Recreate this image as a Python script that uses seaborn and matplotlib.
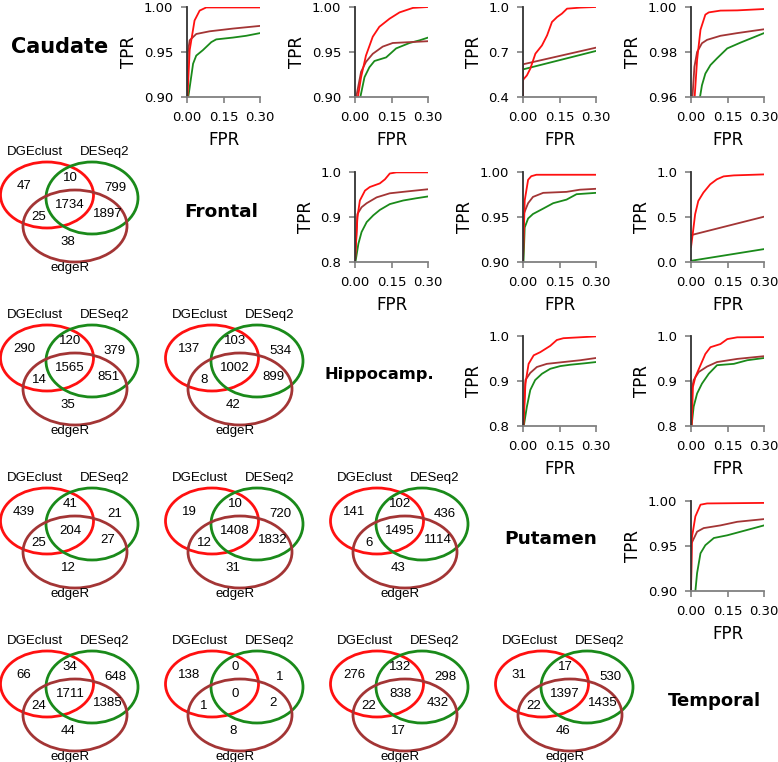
import numpy as np
import pandas as pd
import seaborn as sns
import matplotlib.pyplot as plt
from matplotlib.patches import Ellipse

regions = ['Caudate', 'Frontal', 'Hippocamp.', 'Putamen', 'Temporal']
methods = ['DGEclust', 'DESeq2', 'edgeR']
colors = {'DGEclust': '#ff1010', 'DESeq2': '#1a8a1a', 'edgeR': '#a33535'}

# ROC curves (FPR, TPR)
roc_caud_front = {
    'DGEclust': ([0.002, 0.011, 0.031, 0.052, 0.079, 0.30], [0.90, 0.952, 0.985, 0.996, 0.9995, 0.9995]),
    'DESeq2': ([0.005, 0.008, 0.025, 0.038, 0.065, 0.10, 0.12, 0.188, 0.243, 0.30],
               [0.90, 0.905, 0.937, 0.946, 0.952, 0.961, 0.964, 0.966, 0.968, 0.971]),
    'edgeR': ([0.0, 0.004, 0.011, 0.038, 0.093, 0.188, 0.30], [0.90, 0.95, 0.963, 0.970, 0.973, 0.976, 0.979]),
}
roc_caud_hipp = {
    'DGEclust': ([0.012, 0.025, 0.045, 0.073, 0.10, 0.142, 0.183, 0.238, 0.30],
                 [0.90, 0.922, 0.946, 0.967, 0.978, 0.987, 0.994, 0.999, 1.0]),
    'DESeq2': ([0.022, 0.039, 0.059, 0.080, 0.128, 0.169, 0.224, 0.266, 0.30],
               [0.90, 0.922, 0.933, 0.940, 0.944, 0.954, 0.960, 0.963, 0.966]),
    'edgeR': ([0.005, 0.025, 0.045, 0.073, 0.114, 0.155, 0.30], [0.90, 0.928, 0.939, 0.948, 0.956, 0.960, 0.962]),
}
roc_caud_put = {
    'DGEclust': ([0.0, 0.0, 0.003, 0.016, 0.030, 0.051, 0.078, 0.099, 0.119, 0.140, 0.160, 0.181, 0.236, 0.30],
                 [0.40, 0.511, 0.52, 0.544, 0.589, 0.689, 0.744, 0.811, 0.90, 0.933, 0.956, 0.989, 0.996, 1.0]),
    'DESeq2': ([0.0, 0.30], [0.584, 0.707]),
    'edgeR': ([0.0, 0.0, 0.30], [0.40, 0.618, 0.729]),
}
roc_caud_temp = {
    'DGEclust': ([0.015, 0.025, 0.039, 0.059, 0.073, 0.121, 0.190, 0.30],
                 [0.96, 0.9764, 0.9899, 0.9966, 0.9976, 0.9984, 0.9985, 0.9991]),
    'DESeq2': ([0.037, 0.045, 0.059, 0.080, 0.107, 0.149, 0.204, 0.259, 0.30],
               [0.96, 0.9652, 0.9704, 0.9742, 0.9772, 0.9816, 0.9842, 0.9866, 0.9884]),
    'edgeR': ([0.006, 0.014, 0.025, 0.045, 0.066, 0.121, 0.190, 0.30],
              [0.96, 0.9734, 0.980, 0.9839, 0.9854, 0.9872, 0.9884, 0.9901]),
}
roc_front_hipp = {
    'DGEclust': ([0.0, 0.01, 0.020, 0.041, 0.061, 0.102, 0.123, 0.143, 0.170, 0.30],
                 [0.80, 0.899, 0.936, 0.958, 0.966, 0.974, 0.983, 0.996, 0.9985, 0.9985]),
    'DESeq2': ([0.002, 0.014, 0.027, 0.048, 0.075, 0.102, 0.143, 0.198, 0.252, 0.30],
               [0.80, 0.840, 0.866, 0.888, 0.903, 0.915, 0.928, 0.936, 0.941, 0.945]),
    'edgeR': ([0.0, 0.01, 0.027, 0.048, 0.089, 0.143, 0.211, 0.30],
              [0.80, 0.906, 0.921, 0.930, 0.943, 0.952, 0.956, 0.961]),
}
roc_front_put = {
    'DGEclust': ([0.0, 0.007, 0.021, 0.034, 0.055, 0.30], [0.90, 0.968, 0.991, 0.995, 0.9966, 0.9966]),
    'DESeq2': ([0.002, 0.007, 0.021, 0.041, 0.083, 0.124, 0.179, 0.22, 0.30],
               [0.90, 0.938, 0.948, 0.953, 0.959, 0.965, 0.969, 0.975, 0.9765]),
    'edgeR': ([0.0, 0.003, 0.021, 0.041, 0.083, 0.179, 0.234, 0.30],
              [0.90, 0.953, 0.965, 0.972, 0.9765, 0.9776, 0.980, 0.981]),
}
roc_front_temp = {
    'DGEclust': ([0.0, 0.007, 0.017, 0.030, 0.051, 0.079, 0.106, 0.134, 0.176, 0.30],
                 [0.16, 0.306, 0.528, 0.675, 0.768, 0.86, 0.915, 0.948, 0.959, 0.97]),
    'DESeq2': ([0.0, 0.30], [0.01, 0.14]),
    'edgeR': ([0.0, 0.30], [0.295, 0.50]),
}
roc_hipp_put = {
    'DGEclust': ([0.002, 0.01, 0.023, 0.044, 0.071, 0.112, 0.139, 0.166, 0.30],
                 [0.80, 0.895, 0.939, 0.958, 0.965, 0.979, 0.992, 0.996, 1.0]),
    'DESeq2': ([0.003, 0.016, 0.030, 0.050, 0.078, 0.112, 0.153, 0.194, 0.25, 0.30],
               [0.80, 0.844, 0.881, 0.903, 0.917, 0.928, 0.934, 0.937, 0.940, 0.943]),
    'edgeR': ([0.0, 0.01, 0.030, 0.057, 0.098, 0.166, 0.235, 0.30],
              [0.80, 0.903, 0.919, 0.932, 0.939, 0.943, 0.947, 0.952]),
}
roc_hipp_temp = {
    'DGEclust': ([0.003, 0.008, 0.018, 0.039, 0.059, 0.080, 0.121, 0.149, 0.190, 0.30],
                 [0.80, 0.888, 0.910, 0.936, 0.961, 0.976, 0.983, 0.994, 0.998, 0.9985]),
    'DESeq2': ([0.002, 0.011, 0.025, 0.045, 0.073, 0.107, 0.176, 0.231, 0.30],
               [0.80, 0.844, 0.873, 0.895, 0.917, 0.936, 0.939, 0.947, 0.952]),
    'edgeR': ([0.0, 0.0, 0.011, 0.032, 0.066, 0.107, 0.190, 0.30],
              [0.80, 0.873, 0.903, 0.921, 0.933, 0.943, 0.950, 0.956]),
}
roc_put_temp = {
    'DGEclust': ([0.0, 0.004, 0.018, 0.039, 0.066, 0.30], [0.90, 0.960, 0.983, 0.996, 0.9974, 0.998]),
    'DESeq2': ([0.018, 0.025, 0.039, 0.059, 0.094, 0.149, 0.204, 0.259, 0.30],
               [0.90, 0.920, 0.942, 0.951, 0.959, 0.962, 0.966, 0.970, 0.973]),
    'edgeR': ([0.0, 0.002, 0.025, 0.052, 0.121, 0.190, 0.30],
              [0.90, 0.953, 0.966, 0.970, 0.973, 0.977, 0.980]),
}

# y ticks of each ROC panel
yticks_caud_front = ['0.90', '0.95', '1.00']
yticks_caud_hipp = ['0.90', '0.95', '1.00']
yticks_caud_put = ['0.4', '0.7', '1.0']
yticks_caud_temp = ['0.96', '0.98', '1.00']
yticks_front_hipp = ['0.8', '0.9', '1.0']
yticks_front_put = ['0.90', '0.95', '1.00']
yticks_front_temp = ['0.0', '0.5', '1.0']
yticks_hipp_put = ['0.8', '0.9', '1.0']
yticks_hipp_temp = ['0.8', '0.9', '1.0']
yticks_put_temp = ['0.90', '0.95', '1.00']
xticks_fpr = ['0.00', '0.15', '0.30']

# Venn counts: DGEclust only, DGE&DESeq2, DESeq2 only, all three, DGE&edgeR, DESeq2&edgeR, edgeR only
venn_front_caud = [47, 10, 799, 1734, 25, 1897, 38]
venn_hipp_caud = [290, 120, 379, 1565, 14, 851, 35]
venn_hipp_front = [137, 103, 534, 1002, 8, 899, 42]
venn_put_caud = [439, 41, 21, 204, 25, 27, 12]
venn_put_front = [19, 10, 720, 1408, 12, 1832, 31]
venn_put_hipp = [141, 102, 436, 1495, 6, 1114, 43]
venn_temp_caud = [66, 34, 648, 1711, 24, 1385, 44]
venn_temp_front = [138, 0, 1, 0, 1, 2, 8]
venn_temp_hipp = [276, 132, 298, 838, 22, 432, 17]
venn_temp_put = [31, 17, 530, 1397, 22, 1435, 46]

roc_panels = {(0, 1): (roc_caud_front, yticks_caud_front), (0, 2): (roc_caud_hipp, yticks_caud_hipp),
              (0, 3): (roc_caud_put, yticks_caud_put), (0, 4): (roc_caud_temp, yticks_caud_temp),
              (1, 2): (roc_front_hipp, yticks_front_hipp), (1, 3): (roc_front_put, yticks_front_put),
              (1, 4): (roc_front_temp, yticks_front_temp), (2, 3): (roc_hipp_put, yticks_hipp_put),
              (2, 4): (roc_hipp_temp, yticks_hipp_temp), (3, 4): (roc_put_temp, yticks_put_temp)}
venn_panels = {(1, 0): venn_front_caud, (2, 0): venn_hipp_caud, (2, 1): venn_hipp_front,
               (3, 0): venn_put_caud, (3, 1): venn_put_front, (3, 2): venn_put_hipp,
               (4, 0): venn_temp_caud, (4, 1): venn_temp_front, (4, 2): venn_temp_hipp,
               (4, 3): venn_temp_put}

sns.set_style('ticks', {'text.color': 'black', 'axes.labelcolor': 'black'})
W, H = 778, 762
fig = plt.figure(figsize=(W / 100, H / 100), dpi=100)


def px_axes(left, top, width, height):
    return fig.add_axes([left / W, 1 - (top + height) / H, width / W, height / H])


# diagonal region names (sizes differ a little in the original)
label_x = [60, 221, 379, 551, 714]
label_y = [47, 212, 375, 539, 701]
label_size = [15, 13.3, 11.7, 13.3, 13]
for k, name in enumerate(regions):
    fig.text(label_x[k] / W, 1 - label_y[k] / H, name, ha='center', va='center', color='black',
             fontsize=label_size[k], fontweight='bold', family='DejaVu Sans')

# ROC panels
for (i, j), (roc, ylabels) in roc_panels.items():
    ax = px_axes(187 + (j - 1) * 168, 7 + i * 164.7, 73, 90)
    for m in ['DESeq2', 'edgeR', 'DGEclust']:
        fpr, tpr = roc[m]
        df = pd.DataFrame({'FPR': fpr, 'TPR': tpr})
        sns.lineplot(data=df, x='FPR', y='TPR', ax=ax, color=colors[m], linewidth=1.3,
                     sort=False, estimator=None, legend=False)
    yt = [float(v) for v in ylabels]
    ax.set_xlim(0, 0.30)
    ax.set_ylim(yt[0], yt[-1])
    ax.set_xticks([float(v) for v in xticks_fpr])
    ax.set_xticklabels(xticks_fpr, fontsize=9.5)
    ax.set_yticks(yt)
    ax.set_yticklabels(ylabels, fontsize=9.5)
    ax.set_xlabel('FPR', fontsize=12, labelpad=5)
    ax.set_ylabel('TPR', fontsize=12, labelpad=4)
    sns.despine(ax=ax)
    ax.spines['left'].set_color('#333333')
    ax.spines['bottom'].set_color('#808080')
    ax.spines['left'].set_linewidth(1.3)
    ax.spines['bottom'].set_linewidth(1.3)
    ax.tick_params(length=4, width=1.2, color='#808080', labelcolor='black', pad=6)

# Venn panels (local pixel coordinates)
ell = {'DGEclust': (47, 55, 93, 66), 'DESeq2': (92, 58, 92, 72), 'edgeR': (75, 86, 104, 72)}
num_pos = [(24, 46), (70, 38), (115, 48), (70, 65), (39, 77), (108, 74), (68, 102)]
for (i, j), counts in venn_panels.items():
    ax = px_axes(j * 165, 140 + (i - 1) * 163, 160, 135)
    ax.set_xlim(0, 160)
    ax.set_ylim(135, 0)
    ax.axis('off')
    for m in methods:
        cx, cy, w, h = ell[m]
        ax.add_patch(Ellipse((cx, cy), w, h, fill=False, edgecolor=colors[m], linewidth=2, clip_on=False))
    ax.text(35, 12, 'DGEclust', ha='center', va='center', fontsize=9.5, family='Liberation Sans')
    ax.text(105, 12, 'DESeq2', ha='center', va='center', fontsize=9.5, family='Liberation Sans')
    ax.text(70, 128, 'edgeR', ha='center', va='center', fontsize=9.5, family='Liberation Sans')
    for (x, y), c in zip(num_pos, counts):
        ax.text(x, y, str(c), ha='center', va='center', fontsize=9.5, family='Liberation Sans')

fig.savefig('out.png', dpi=100)
